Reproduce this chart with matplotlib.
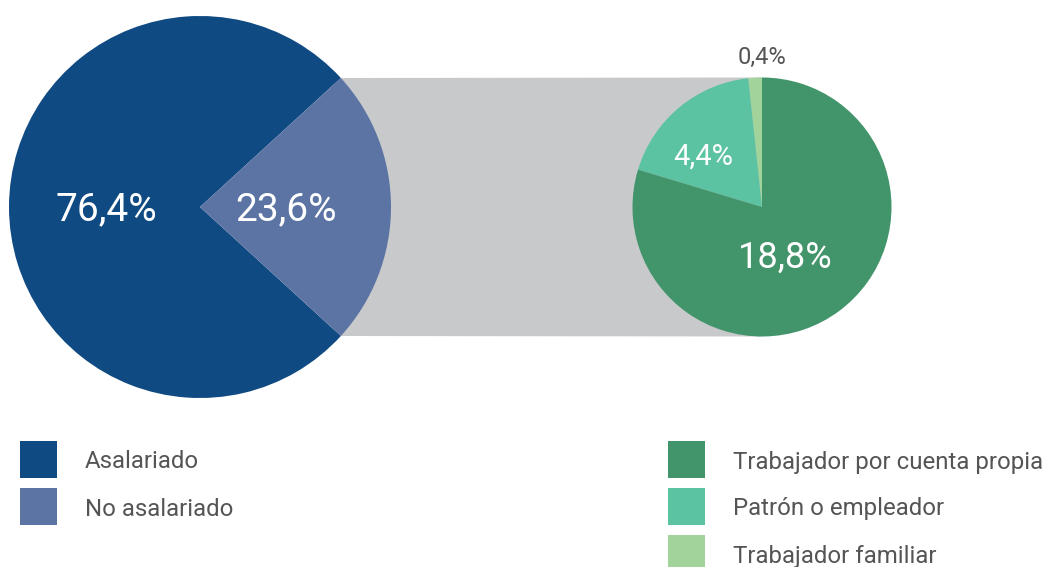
import matplotlib
matplotlib.use("Agg")
import matplotlib.pyplot as plt
from matplotlib.patches import Polygon, Rectangle

# data
main_labels = ["Asalariado", "No asalariado"]
main_values = [76.4, 23.6]
main_colors = ["#0f4a82", "#5b74a4"]

sub_labels = ["Trabajador familiar", "Patrón o empleador", "Trabajador por cuenta propia"]
sub_values = [0.4, 4.4, 18.8]
sub_colors = ["#a1d39b", "#5cc3a2", "#42946b"]

plt.rcParams["font.family"] = ["Roboto", "DejaVu Sans"]

W, H = 1053, 567
fig = plt.figure(figsize=(W / 100, H / 100), dpi=100)
ax = fig.add_axes([0, 0, 1, 1])

# image coords -> data coords
def Y(y):
    return H - y

# left pie
lc, lr = (200, Y(207)), 191
half = main_values[1] / 100 * 360 / 2
ax.pie(main_values, colors=main_colors, center=lc, radius=lr,
       startangle=half, counterclock=True, frame=True,
       wedgeprops=dict(linewidth=0, zorder=3))

# right pie
rc, rr = (762, Y(207)), 129.5
ax.pie(sub_values, colors=sub_colors, center=rc, radius=rr,
       startangle=90, counterclock=True, frame=True,
       wedgeprops=dict(linewidth=0, zorder=3))

ax.set_xlim(0, W)
ax.set_ylim(0, H)
ax.set_aspect("equal")
ax.axis("off")

# grey connector band
ax.add_patch(Polygon([(335, Y(78)), (rc[0], Y(77.5)), (rc[0], Y(336.5)), (335, Y(336))],
                     closed=True, facecolor="#c8c9cb", edgecolor="none", zorder=1))

# value labels
fmt = lambda v: f"{v:.1f}%".replace(".", ",")
ax.text(106, Y(210), fmt(main_values[0]), color="white", fontsize=28, ha="center", va="center", zorder=5)
ax.text(286, Y(210), fmt(main_values[1]), color="white", fontsize=28, ha="center", va="center", zorder=5)
ax.text(703, Y(157), fmt(sub_values[1]), color="white", fontsize=21, ha="center", va="center", zorder=5)
ax.text(785, Y(258), fmt(sub_values[2]), color="white", fontsize=26, ha="center", va="center", zorder=5)
ax.text(762, Y(57), fmt(sub_values[0]), color="#555555", fontsize=17, ha="center", va="center", zorder=5)

# legends
txt = "#555555"
for i, (lab, col) in enumerate(zip(main_labels, main_colors)):
    y0 = 441 + i * 47
    ax.add_patch(Rectangle((20, Y(y0 + 37)), 37, 37, facecolor=col, edgecolor="none"))
    ax.text(85, Y(y0 + 21), lab, color=txt, fontsize=17.3, ha="left", va="center")

leg_order = [2, 1, 0]
for i, k in enumerate(leg_order):
    y0 = 441 + i * 47
    ax.add_patch(Rectangle((668, Y(y0 + 37)), 37, 37, facecolor=sub_colors[k], edgecolor="none"))
    ax.text(733, Y(y0 + 21), sub_labels[k], color=txt, fontsize=17.3, ha="left", va="center")

fig.savefig("out.png", dpi=100)
